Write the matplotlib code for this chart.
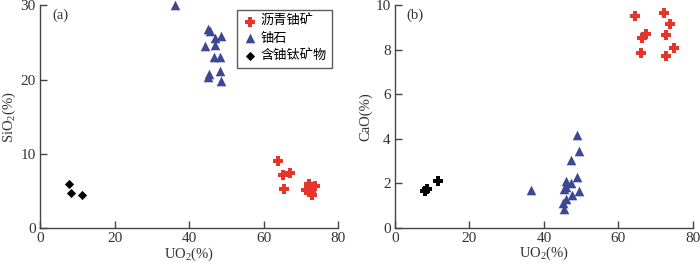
import matplotlib
matplotlib.use("Agg")
import matplotlib.pyplot as plt

plt.rcParams["font.family"] = ["Liberation Serif", "Noto Sans CJK SC"]
plt.rcParams["mathtext.fontset"] = "custom"
plt.rcParams["mathtext.rm"] = "Liberation Serif"

# 沥青铀矿 (pitchblende)
pb_uo2_a = [63.8, 65.2, 67.0, 65.4, 72.1, 71.4, 72.6, 73.9, 73.0]
pb_sio2 = [9.0, 7.2, 7.35, 5.25, 5.95, 5.15, 4.85, 5.6, 4.5]
pb_uo2_b = [64.5, 72.2, 73.7, 67.5, 66.3, 72.8, 66.0, 74.9, 72.8]
pb_cao = [9.49, 9.66, 9.14, 8.69, 8.52, 8.67, 7.87, 8.05, 7.72]

# 铀石 (coffinite)
cf_uo2_a = [36.1, 45.2, 45.7, 48.6, 46.9, 44.3, 47.0, 46.6, 48.4, 45.0, 45.4, 48.4, 48.6]
cf_sio2 = [30.1, 26.8, 26.5, 25.9, 25.6, 24.5, 24.6, 23.1, 23.0, 20.4, 20.7, 21.1, 19.8]
cf_uo2_b = [36.6, 49.0, 49.3, 47.2, 45.9, 47.4, 49.0, 45.4, 46.0, 49.4, 47.6, 46.0, 45.0, 45.4]
cf_cao = [1.71, 4.17, 3.43, 3.06, 2.09, 2.01, 2.27, 1.76, 1.82, 1.67, 1.46, 1.27, 1.12, 0.82]

# 含铀钛矿物 (U-bearing titanium minerals)
ti_uo2_a = [7.9, 8.4, 11.3]
ti_sio2 = [5.87, 4.75, 4.39]
ti_uo2_b = [8.2, 8.6, 11.7]
ti_cao = [1.66, 1.72, 2.12]

red = "#e8352c"
blue = "#3d4894"
axis_col = "#444444"
text_col = "#333333"

fig = plt.figure(figsize=(7.0, 2.67), dpi=100)
ax1 = fig.add_axes([0.0571, 0.146, 0.426, 0.834])
ax2 = fig.add_axes([0.564, 0.147, 0.426, 0.834])


def style(ax):
    for s in ("top", "right"):
        ax.spines[s].set_visible(False)
    for s in ("left", "bottom"):
        ax.spines[s].set_color(axis_col)
        ax.spines[s].set_linewidth(1.0)
    ax.tick_params(direction="in", length=5, width=1.0, color=axis_col,
                   labelsize=11, labelcolor=text_col, pad=3)
    ax.set_xlim(0, 80)
    ax.set_xticks([0, 20, 40, 60, 80])
    ax.set_xlabel("UO$_2$(%)", fontsize=10.5, color=text_col, labelpad=0)


# (a)
ax1.scatter(pb_uo2_a, pb_sio2, marker="P", s=42, color=red, linewidths=0,
            label="沥青铀矿", zorder=3, clip_on=False)
ax1.scatter(cf_uo2_a, cf_sio2, marker="^", s=48, color=blue, linewidths=0,
            label="铀石", zorder=3, clip_on=False)
ax1.scatter(ti_uo2_a, ti_sio2, marker="D", s=22, color="black", linewidths=0,
            label="含铀钛矿物", zorder=3, clip_on=False)
style(ax1)
ax1.set_ylim(0, 30)
ax1.set_yticks([0, 10, 20, 30])
ax1.set_ylabel("SiO$_2$(%)", fontsize=10.5, color=text_col, labelpad=2)
ax1.text(0.04, 0.985, "(a)", transform=ax1.transAxes, fontsize=10.5,
         va="top", ha="left", color=text_col)
leg = ax1.legend(loc="upper right", bbox_to_anchor=(0.98, 0.98),
                 frameon=True, fancybox=False, fontsize=9.5,
                 handletextpad=0.2, handlelength=1.2, borderpad=0.4,
                 labelspacing=0.35, borderaxespad=0.0)
leg.get_frame().set_edgecolor(text_col)
leg.get_frame().set_linewidth(1.0)

# (b)
ax2.scatter(pb_uo2_b, pb_cao, marker="P", s=42, color=red, linewidths=0,
            zorder=3, clip_on=False)
ax2.scatter(cf_uo2_b, cf_cao, marker="^", s=48, color=blue, linewidths=0,
            zorder=3, clip_on=False)
ax2.scatter(ti_uo2_b, ti_cao, marker="P", s=42, color="black", linewidths=0,
            zorder=3, clip_on=False)
style(ax2)
ax2.set_ylim(0, 10)
ax2.set_yticks([0, 2, 4, 6, 8, 10])
ax2.set_ylabel("CaO(%)", fontsize=10.5, color=text_col, labelpad=2)
ax2.text(0.04, 0.985, "(b)", transform=ax2.transAxes, fontsize=10.5,
         va="top", ha="left", color=text_col)

fig.savefig("out.png", dpi=100)
